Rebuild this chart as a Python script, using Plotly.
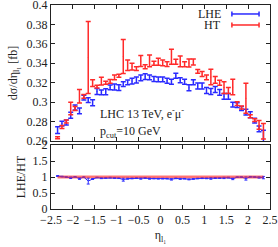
import plotly.graph_objects as go

eta = [round(-2.35 + 0.1 * k, 2) for k in range(48)]

lhe = [0.2713, 0.2779, 0.279, 0.2865, 0.2945, 0.291, 0.3047, 0.3021, 0.2994, 0.311,
       0.310, 0.3107, 0.3152, 0.3156, 0.3149, 0.3186, 0.3204, 0.3217, 0.3228, 0.325,
       0.3262, 0.3255, 0.3238, 0.3235, 0.3235, 0.322, 0.321, 0.3272, 0.3225, 0.321,
       0.3148, 0.3205, 0.3166, 0.3166, 0.312, 0.311, 0.313, 0.310, 0.306, 0.306,
       0.2975, 0.297, 0.2935, 0.2897, 0.287, 0.281, 0.2725, 0.265]
lhe_err = [0.0035, 0.0025, 0.0025, 0.003, 0.0025, 0.003, 0.0025, 0.0025, 0.003, 0.003,
           0.0025, 0.003, 0.0025, 0.003, 0.003, 0.0025, 0.0025, 0.003, 0.003, 0.003,
           0.003, 0.0025, 0.0025, 0.0025, 0.0025, 0.0025, 0.0025, 0.0025, 0.0025, 0.0025,
           0.003, 0.0025, 0.003, 0.003, 0.003, 0.003, 0.003, 0.003, 0.003, 0.003,
           0.0025, 0.0025, 0.002, 0.003, 0.003, 0.0025, 0.003, 0.006]

ht = [0.2633, 0.2745, 0.280, 0.2935, 0.2935, 0.306, 0.306, 0.346, 0.3195, 0.316,
      0.3217, 0.320, 0.3214, 0.3255, 0.3272, 0.3471, 0.338, 0.3365, 0.3345, 0.3423,
      0.3365, 0.3425, 0.340, 0.3416, 0.3405, 0.3392, 0.3468, 0.3416, 0.342, 0.339,
      0.3403, 0.3413, 0.3317, 0.329, 0.3255, 0.3258, 0.323, 0.320, 0.315, 0.312,
      0.3155, 0.2985, 0.2945, 0.304, 0.2855, 0.2815, 0.2765, 0.270]
ht_err = [0.001, 0.0015, 0.0015, 0.0065, 0.002, 0.007, 0.002, 0.037, 0.0035, 0.0015,
          0.004, 0.0015, 0.002, 0.0025, 0.0015, 0.0175, 0.0055, 0.0035, 0.002, 0.0057,
          0.002, 0.006, 0.002, 0.0035, 0.003, 0.0025, 0.0077, 0.0025, 0.0055, 0.0025,
          0.004, 0.003, 0.002, 0.0025, 0.0025, 0.008, 0.0035, 0.0025, 0.006, 0.003,
          0.008, 0.002, 0.0015, 0.0155, 0.0015, 0.0015, 0.0045, 0.008]

ratio = [a / b for a, b in zip(lhe, ht)]
ratio_err = [r * ((ea / a) ** 2 + (eb / b) ** 2) ** 0.5
             for r, a, ea, b, eb in zip(ratio, lhe, lhe_err, ht, ht_err)]
ones = [1.0 for _ in eta]

BLUE = "#2a2aff"
RED = "#ff2a2a"
FONT = "Liberation Serif"
FS = 12

fig = go.Figure()

fig.add_trace(go.Scatter(
    x=eta, y=lhe, mode="markers", marker=dict(size=1, color=BLUE),
    error_y=dict(type="data", array=lhe_err, color=BLUE, thickness=1.5, width=2.5),
    xaxis="x", yaxis="y", showlegend=False))
fig.add_trace(go.Scatter(
    x=eta, y=ht, mode="markers", marker=dict(size=1, color=RED),
    error_y=dict(type="data", array=ht_err, color=RED, thickness=1.5, width=2.5),
    xaxis="x", yaxis="y", showlegend=False))

fig.add_trace(go.Scatter(
    x=eta, y=ones, mode="lines", line=dict(color="rgba(255,60,60,0.35)", width=4),
    xaxis="x2", yaxis="y2", showlegend=False))
fig.add_trace(go.Scatter(
    x=eta, y=ratio, mode="lines", line=dict(color=BLUE, width=1),
    error_y=dict(type="data", array=ratio_err, color=BLUE, thickness=1, width=1.5),
    xaxis="x2", yaxis="y2", showlegend=False))
fig.add_trace(go.Scatter(
    x=eta, y=ones, mode="lines", line=dict(color=RED, width=1),
    xaxis="x2", yaxis="y2", showlegend=False))

axis_common = dict(showline=True, linecolor="#222", linewidth=1, mirror="ticks",
                   ticks="inside", ticklen=4, tickcolor="#222", showgrid=False,
                   zeroline=False, automargin=False, ticklabeloverflow="allow",
                   tickfont=dict(family=FONT, size=FS, color="#222"))

fig.update_layout(
    width=278, height=247,
    margin=dict(l=51, r=8, t=5, b=38),
    paper_bgcolor="white", plot_bgcolor="white",
    font=dict(family=FONT, size=FS, color="#222"),
    xaxis=dict(domain=[0, 1], range=[-2.5, 2.5], anchor="y", dtick=0.5,
               showticklabels=False, **axis_common),
    yaxis=dict(domain=[0.3333, 1], range=[0.26, 0.4], dtick=0.02, anchor="x",
               title=dict(text="dσ/dη<sub>l₁</sub> [fb]", standoff=6,
                          font=dict(family=FONT, size=FS)),
               **axis_common),
    xaxis2=dict(domain=[0, 1], range=[-2.5, 2.5], anchor="y2", dtick=0.5,
                title=dict(text="η<sub>l₁</sub>", standoff=4,
                           font=dict(family=FONT, size=FS)),
                **axis_common),
    yaxis2=dict(domain=[0, 0.3137], range=[0, 2], dtick=0.5, anchor="x2",
                title=dict(text="LHE/HT", standoff=4, font=dict(family=FONT, size=FS)),
                **axis_common),
)

# text annotations
fig.add_annotation(x=0.215, y=0.466, xref="paper", yref="paper", xanchor="left",
                   yanchor="middle", showarrow=False,
                   text="LHC 13 TeV, e<sup>-</sup>μ<sup>-</sup>",
                   font=dict(family=FONT, size=FS, color="#222"))
fig.add_annotation(x=0.215, y=0.377, xref="paper", yref="paper", xanchor="left",
                   yanchor="middle", showarrow=False,
                   text="p<sub>cut</sub>=10 GeV",
                   font=dict(family=FONT, size=FS, color="#222"))

# legend drawn manually (text left of sample, gnuplot style)
legend_items = [("LHE", BLUE, 0.956), ("HT", RED, 0.902)]
for name, col, yy in legend_items:
    fig.add_annotation(x=0.785, y=yy, xref="paper", yref="paper", xanchor="right",
                       yanchor="middle", showarrow=False, text=name,
                       font=dict(family=FONT, size=FS, color="#222"))
    fig.add_shape(type="line", xref="paper", yref="paper", x0=0.826, x1=0.950,
                  y0=yy, y1=yy, line=dict(color=col, width=1.5))
    for xx in (0.826, 0.950):
        fig.add_shape(type="line", xref="paper", yref="paper", x0=xx, x1=xx,
                      y0=yy - 0.012, y1=yy + 0.012, line=dict(color=col, width=1.5))

fig.write_html("out.html", config={"displayModeBar": False},
               post_script="document.body.style.margin='0';document.body.style.overflow='hidden';")
